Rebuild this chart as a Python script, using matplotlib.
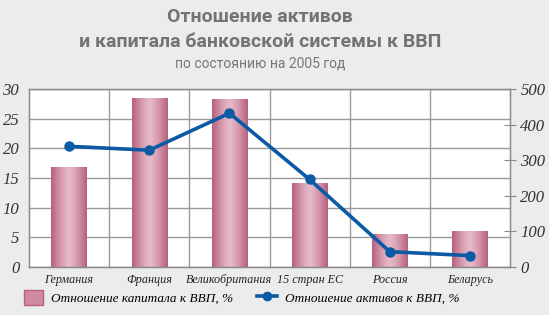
import matplotlib.pyplot as plt
import numpy as np
from matplotlib.lines import Line2D
from matplotlib.patches import Patch

# Data
countries = ["Германия", "Франция", "Великобритания", "15 стран ЕС", "Россия", "Беларусь"]
capital_pct = [16.8, 28.4, 28.3, 14.1, 5.6, 6.1]
assets_pct = [339, 328, 432, 246, 43, 32]
left_ticks = [0, 5, 10, 15, 20, 25, 30]
right_ticks = [0, 100, 200, 300, 400, 500]

bg = "#ececec"
pink_dark = "#b8607e"
pink_light = "#e6b9c8"
blue = "#0a5aa5"
serif = ["Liberation Serif", "DejaVu Serif"]
tick_font = dict(fontfamily=serif, fontstyle="italic", fontsize=12, color="#333333")

fig = plt.figure(figsize=(5.49, 3.15), dpi=100, facecolor=bg)
ax = fig.add_axes([0.0528, 0.1524, 0.8762, 0.5651])
ax.set_facecolor("white")

x = np.arange(len(countries))
bars = ax.bar(x, capital_pct, width=0.44, color=pink_dark, zorder=2)

# horizontal gradient inside each bar: darker edges, lighter middle
t = np.linspace(-1, 1, 64)
grad = 1 - np.abs(t) ** 1.3
cmap = plt.matplotlib.colors.LinearSegmentedColormap.from_list("pk", [pink_dark, pink_light])
for b in bars:
    im = ax.imshow(grad[np.newaxis, :], cmap=cmap, aspect="auto",
                   extent=[b.get_x(), b.get_x() + b.get_width(), 0, b.get_height()],
                   zorder=2.1)
    im.set_clip_path(b)

ax.set_xlim(-0.5, len(countries) - 0.5)
ax.set_ylim(0, 30)
ax.set_yticks(left_ticks, [str(v) for v in left_ticks], **tick_font)
ax.set_xticks(x, countries, fontfamily=serif, fontstyle="italic", fontsize=8.7, color="#222222")
ax.set_xticks(np.arange(0.5, len(countries) - 1, 1), minor=True)
ax.grid(True, axis="y", color="#9a9a9a", lw=1, zorder=0)
ax.grid(True, axis="x", which="minor", color="#9a9a9a", lw=1, zorder=0)
ax.tick_params(axis="both", which="both", length=0)
ax.tick_params(axis="y", pad=7)
ax.tick_params(axis="x", pad=5)
for s in ax.spines.values():
    s.set_color("#8a8a8a")
    s.set_linewidth(1)

ax2 = ax.twinx()
ax2.plot(x, assets_pct, color=blue, lw=2.6, marker="o", ms=6.5, zorder=3)
ax2.set_ylim(0, 500)
ax2.set_yticks(right_ticks, [str(v) for v in right_ticks], **tick_font)
ax2.tick_params(axis="y", direction="inout", length=9, color="#8a8a8a", pad=3)
for s in ax2.spines.values():
    s.set_color("#8a8a8a")

fig.text(0.474, 0.945, "Отношение активов", ha="center", va="center",
         fontsize=14, fontweight="bold", color="#737373", family="Roboto")
fig.text(0.474, 0.868, "и капитала банковской системы к ВВП", ha="center", va="center",
         fontsize=14, fontweight="bold", color="#737373", family="Roboto")
fig.text(0.474, 0.800, "по состоянию на 2005 год", ha="center", va="center",
         fontsize=10, color="#777777", family="Roboto")

handles = [Patch(facecolor="#d08aa2", edgecolor=pink_dark),
           Line2D([0], [0], color=blue, lw=2.6, marker="o", ms=6)]
fig.legend(handles, ["Отношение капитала к ВВП, %", "Отношение активов к ВВП, %"],
           loc="center", bbox_to_anchor=(0.44, 0.055), ncol=2, frameon=False,
           prop={"family": serif, "style": "italic", "size": 9.5},
           handlelength=1.5, handleheight=1.4, columnspacing=1.8, handletextpad=0.6)

fig.savefig("out.png", dpi=100, facecolor=bg)
